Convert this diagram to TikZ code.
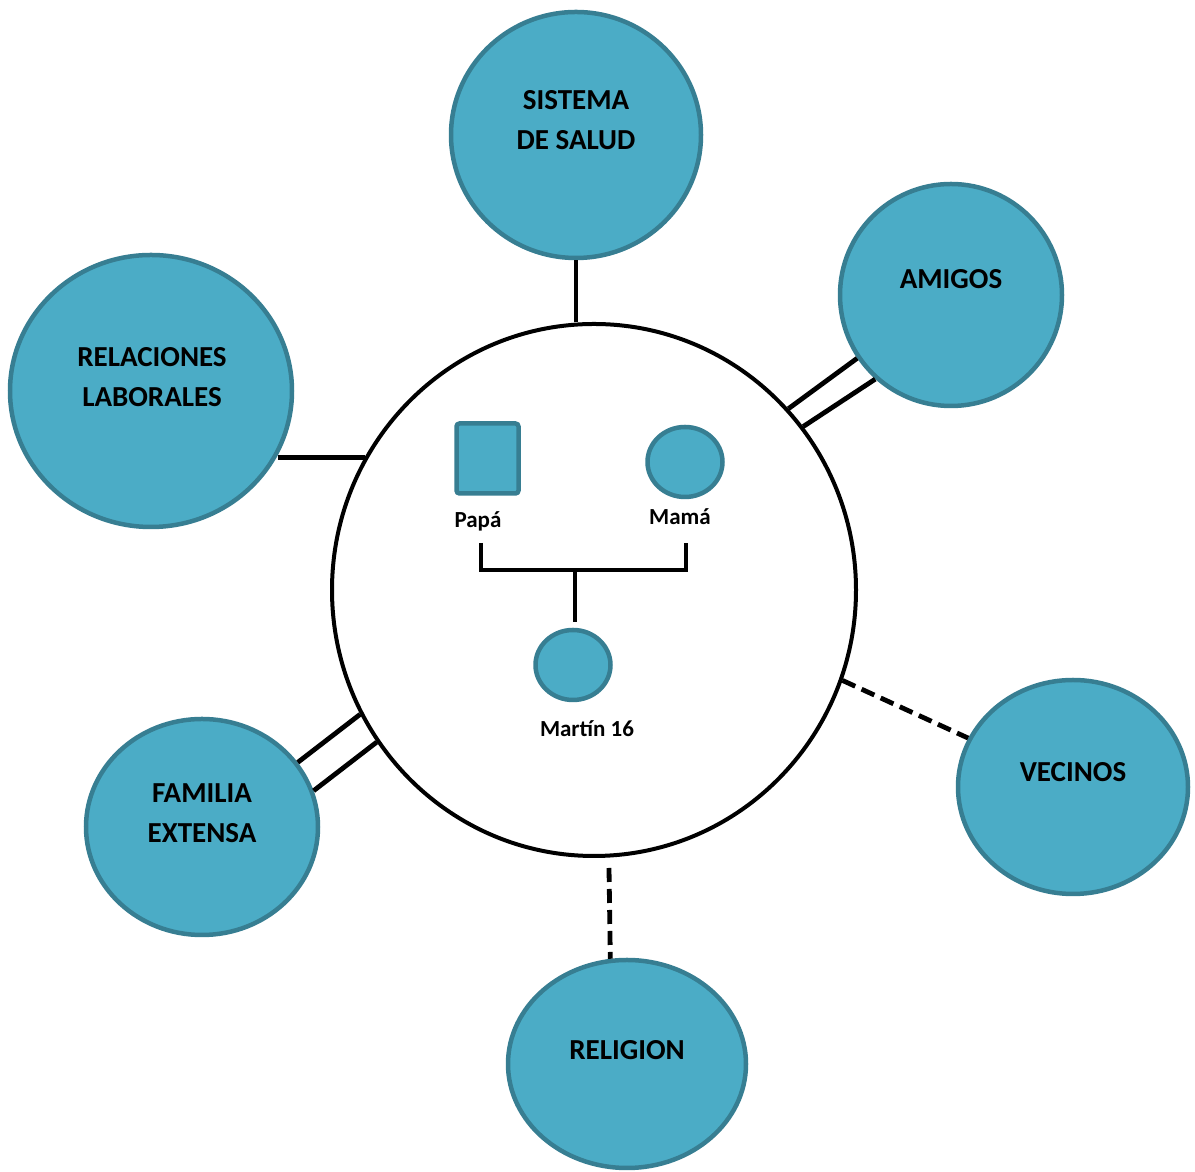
\documentclass[tikz,border=0pt]{standalone}
\usepackage{fontspec}
\setmainfont{Carlito}
\usetikzlibrary{shapes.geometric}
\definecolor{fillc}{HTML}{4BACC6}
\definecolor{edgec}{HTML}{377E92}
\begin{document}
\begin{tikzpicture}[x=1pt,y=1pt,
  bub/.style={ellipse, draw=edgec, fill=fillc, line width=4.5pt, inner sep=0pt},
  bigtxt/.style={font=\fontsize{29}{40}\selectfont\bfseries, align=center, inner sep=0pt},
  smalltxt/.style={font=\fontsize{23}{28}\selectfont\bfseries, inner sep=0pt},
  conn/.style={draw=black, line width=4.8pt},
  dsh/.style={dash pattern=on 14pt off 7pt}]
\useasboundingbox (0,0) rectangle (1195,1172);
% outer bubbles
\node[bub, minimum width=250, minimum height=246] (sistema) at (576,1037) {};
\node[bub, minimum width=222, minimum height=222] (amigos) at (951,877) {};
\node[bub, minimum width=282, minimum height=272] (rel) at (151,781) {};
\node[bub, minimum width=230, minimum height=214] (vecinos) at (1073,385) {};
\node[bub, minimum width=232, minimum height=216] (familia) at (202,345) {};
\node[bub, minimum width=238, minimum height=208] (religion) at (627,108) {};
% central household
\node[ellipse, draw=black, fill=white, line width=4pt, inner sep=0pt, minimum width=524, minimum height=532] (big) at (594,582) {};
% texts
\node[bigtxt] (sistema-t) at (576,1052) {SISTEMA\\DE SALUD};
\node[bigtxt] (amigos-t) at (951,893) {AMIGOS};
\node[bigtxt] (rel-t) at (152,795) {RELACIONES\\LABORALES};
\node[bigtxt] (vecinos-t) at (1073,400) {VECINOS};
\node[bigtxt] (familia-t) at (202,359) {FAMILIA\\EXTENSA};
\node[bigtxt] (religion-t) at (627,122) {RELIGION};
% genogram
\node[draw=edgec, fill=fillc, line width=4.5pt, rounded corners=3pt, minimum width=62, minimum height=70, inner sep=0pt] (papa) at (487.5,713.5) {};
\node[bub, minimum width=75, minimum height=70] (mama) at (685,710) {};
\node[bub, minimum width=75, minimum height=70] (martin) at (573,507) {};
\node[smalltxt, anchor=base] (papa-l) at (478,644) {Papá};
\node[smalltxt, anchor=base] (mama-l) at (680,647) {Mamá};
\node[smalltxt, anchor=base] (martin-l) at (587,435) {Martín 16};
\coordinate (pj) at (481,629);
\coordinate (mj) at (686,629);
\coordinate (cj) at (575,602);
\coordinate (cb) at (575,550);
\draw[conn] (pj) -- (pj |- cj) -- (mj |- cj) -- (mj);
\draw[conn] (cj) -- (cb);
% connectors
\draw[conn] (sistema.south) -- (sistema.south |- big.north);
\draw[conn] (big.43.8) -- (amigos.214.2);
\draw[conn] (big.38.1) -- (amigos.228);
\draw[conn] (big.150.1) -- (big.150.1 -| rel.-27.4);
\draw[conn] (familia.34.7) -- (big.208.5);
\draw[conn] (familia.18) -- (big.215.4);
\draw[conn, dsh] (big.-20.4) -- (vecinos.155);
\coordinate (rtop) at (609,304);
\draw[conn, dsh] (rtop) -- (religion.99.7);
\end{tikzpicture}
\end{document}
